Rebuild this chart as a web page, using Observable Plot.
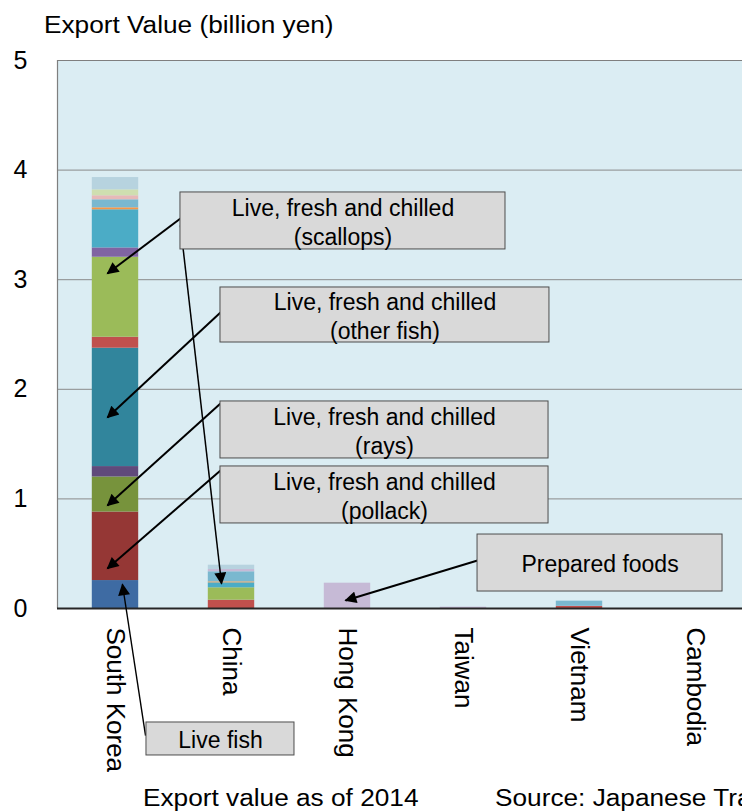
<!DOCTYPE html>
<html>
<head>
<meta charset="utf-8">
<script src="https://cdn.jsdelivr.net/npm/d3@7"></script>
<script src="https://cdn.jsdelivr.net/npm/@observablehq/plot@0.6"></script>
<style>
  html, body { margin: 0; padding: 0; background: #fff; overflow: hidden; }
  #wrap { position: relative; width: 742px; height: 811px; overflow: hidden; font-family: "Liberation Sans", Arial, sans-serif; }
  #wrap svg { overflow: hidden; position: absolute; left: 0; top: 0; }
  .txt { position: absolute; white-space: nowrap; font-size: 23px; line-height: 1; color: #000; transform-origin: 0 0; transform: scaleX(1.14); }
</style>
</head>
<body>
<div id="wrap">
  <div class="txt" id="title" style="left:44px; top:14px;">Export Value (billion yen)</div>
  <div class="txt" id="note" style="left:143px; top:787px;">Export value as of 2014</div>
  <div class="txt" id="source" style="left:495px; top:787px;">Source: Japanese Trade Statistics</div>
</div>
<script>
// ---- data ----
const countries = ["South Korea", "China", "Hong Kong", "Taiwan", "Vietnam", "Cambodia"];
const seriesNames = [
  "Live fish",
  "Live, fresh and chilled (pollack)",
  "Live, fresh and chilled (rays)",
  "Other product 4",
  "Live, fresh and chilled (other fish)",
  "Other product 6",
  "Live, fresh and chilled (scallops)",
  "Other product 8",
  "Other product 9",
  "Other product 10",
  "Other product 11",
  "Other product 12",
  "Other product 13",
  "Prepared foods",
  "Other product 15"
];
// values in billion yen, one entry per country (same order as countries)
const liveFish      = [0.255, 0,     0,     0,     0,     0];
const pollack       = [0.625, 0,     0,     0,     0,     0];
const rays          = [0.320, 0,     0,     0,     0,     0];
const other4        = [0.095, 0,     0,     0,     0,     0];
const otherFish     = [1.080, 0,     0,     0,     0,     0];
const other6        = [0.100, 0.076, 0,     0,     0.020, 0];
const scallops      = [0.730, 0.113, 0,     0,     0,     0];
const other8        = [0.085, 0,     0,     0,     0,     0];
const other9        = [0.348, 0.045, 0,     0,     0,     0];
const other10       = [0.018, 0.009, 0,     0,     0,     0];
const other11       = [0.073, 0.092, 0,     0,     0.047, 0];
const other12       = [0.037, 0,     0,     0,     0,     0];
const other13       = [0.054, 0,     0,     0,     0,     0];
const preparedFoods = [0,     0.021, 0.231, 0.012, 0,     0];
const other15       = [0.112, 0.039, 0,     0,     0,     0];
const seriesValues = [liveFish, pollack, rays, other4, otherFish, other6, scallops, other8,
  other9, other10, other11, other12, other13, preparedFoods, other15];
const yTicks = [0, 1, 2, 3, 4, 5];

// ---- styles ----
const seriesColors = ["#3e6ba3", "#953735", "#77933c", "#604a7b", "#31859c", "#c0504d", "#9bbb59",
  "#8064a2", "#4bacc6", "#f79646", "#7ab8cf", "#e6b9b8", "#cfdeb0", "#c6bad6", "#b7d3df"];

// ---- callouts (layout in data units: x = category index, y = billion yen) ----
const callouts = [
  {label: "Live, fresh and chilled\n(scallops)",   x1: 0.560, x2: 3.362, y1: 3.276, y2: 3.796},
  {label: "Live, fresh and chilled\n(other fish)", x1: 0.905, x2: 3.741, y1: 2.427, y2: 2.929},
  {label: "Live, fresh and chilled\n(rays)",       x1: 0.905, x2: 3.733, y1: 1.369, y2: 1.889},
  {label: "Live, fresh and chilled\n(pollack)",    x1: 0.905, x2: 3.733, y1: 0.776, y2: 1.296},
  {label: "Prepared foods",                         x1: 3.121, x2: 5.233, y1: 0.155, y2: 0.675},
  {label: "Live fish",                              x1: 0.267, x2: 1.543, y1: -1.341, y2: -1.040}
];
const pointers = [
  {x1: 0.560, y1: 3.558, x2: -0.069, y2: 3.057, w: 2},
  {x1: 0.560, y1: 3.495, x2: 0.914, y2: 0.228, w: 1.5},
  {x1: 0.905, y1: 2.701, x2: -0.069, y2: 1.743, w: 2},
  {x1: 0.905, y1: 1.870, x2: -0.069, y2: 0.940, w: 2},
  {x1: 0.905, y1: 1.259, x2: -0.069, y2: 0.365, w: 2},
  {x1: 3.121, y1: 0.438, x2: 1.983, y2: 0.073, w: 2},
  {x1: 0.259, y1: -1.159, x2: 0.060, y2: 0.219, w: 1.4}
];

// ---- table for the library ----
const table = [];
seriesNames.forEach((s, si) => {
  countries.forEach((c, ci) => {
    table.push({series: s, country: c, i: ci, value: seriesValues[si][ci]});
  });
});

const chart = Plot.plot({
  width: 742,
  height: 811,
  marginTop: 60,
  marginBottom: 203,
  marginLeft: 57,
  marginRight: 0,
  style: {fontFamily: "'Liberation Sans', Arial, sans-serif", background: "transparent", overflow: "hidden"},
  x: {type: "linear", domain: [-0.5, 5.5], range: [57, 753]},
  y: {domain: [0, 5], range: [608, 60]},
  color: {domain: seriesNames, range: seriesColors},
  marks: [
    Plot.rect([0], {x1: -0.5, x2: 5.7, y1: 0, y2: 5, fill: "#dbedf3"}),
    Plot.ruleY([1, 2, 3, 4], {x1: -0.5, x2: 5.7, stroke: "#8a8a8a", strokeWidth: 1}),
    Plot.ruleY([5], {x1: -0.5, x2: 5.7, stroke: "#7f7f7f", strokeWidth: 1.2}),
    Plot.ruleX([-0.5], {y1: 0, y2: 5, stroke: "#7f7f7f", strokeWidth: 1.2}),
    Plot.rectY(table, {
      x1: d => d.i - 0.2,
      x2: d => d.i + 0.2,
      y: "value",
      fill: "series"
    }),
    Plot.ruleY([0], {x1: -0.5, x2: 5.7, stroke: "#262626", strokeWidth: 1.8}),
    Plot.axisY({ticks: yTicks, tickFormat: d => String(d), tickSize: 0, tickPadding: 30, fontSize: 25, label: null}),
    Plot.axisX({ticks: d3.range(countries.length), tickFormat: i => countries[i], tickRotate: 90,
      tickSize: 0, tickPadding: 19, fontSize: 26, label: null}),
    Plot.link(pointers, {x1: "x1", y1: "y1", x2: "x2", y2: "y2", stroke: "#000",
      strokeWidth: d => d.w, className: "ptr"}),
    Plot.rect(callouts, {x1: "x1", x2: "x2", y1: "y1", y2: "y2", fill: "#d9d9d9", stroke: "#4d4d4d", strokeWidth: 1}),
    Plot.text(callouts, {x: d => (d.x1 + d.x2) / 2, y: d => (d.y1 + d.y2) / 2, text: "label",
      fontSize: 23, lineHeight: 1.27, fill: "#000"})
  ]
});

// filled triangular arrowheads on the pointer links
const svg = d3.select(chart);
const defs = svg.insert("defs", ":first-child");
defs.append("marker")
  .attr("id", "tri-head")
  .attr("viewBox", "0 0 10 10")
  .attr("refX", 9).attr("refY", 5)
  .attr("markerUnits", "userSpaceOnUse")
  .attr("markerWidth", 14).attr("markerHeight", 12)
  .attr("orient", "auto")
  .append("path").attr("d", "M0,0L10,5L0,10z").attr("fill", "#000");
svg.selectAll(".ptr path").attr("marker-end", "url(#tri-head)");

document.getElementById("wrap").prepend(chart);
</script>
</body>
</html>
